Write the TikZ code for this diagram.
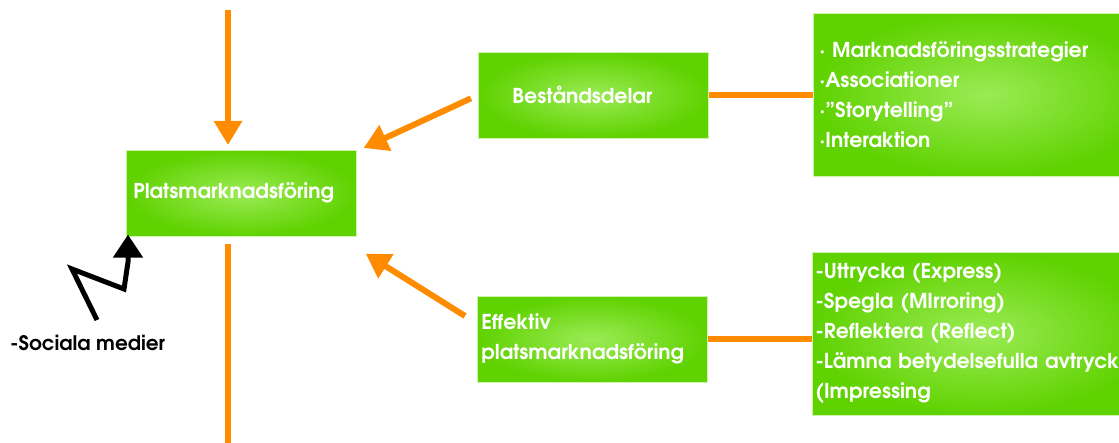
\documentclass[tikz,border=0pt]{standalone}
\usepackage{fontspec}
\setmainfont{texgyreadventor-bold.otf}
\usetikzlibrary{arrows.meta,calc}
\definecolor{ora}{RGB}{255,140,0}
\definecolor{gin}{RGB}{155,235,85}
\definecolor{gout}{RGB}{95,210,0}
\begin{document}
\begin{tikzpicture}[x=1pt,y=-1pt,
  box/.style={rectangle, inner color=gin, outer color=gout, draw=gin!50!white, line width=0.6pt,
    text=white, font=\fontsize{20.5}{30}\selectfont, align=left, anchor=north west, inner ysep=0pt},
  conn/.style={draw=ora, line width=6pt},
  arr/.style={conn, -{Triangle[width=27pt,length=24pt]}},
  zig/.style={draw=black, line width=5pt, line join=miter, -{Triangle[width=29pt,length=23pt]}}]
\useasboundingbox (0,0) rectangle (1119,443);
\fill[white] (0,0) rectangle (1119,443);

\node[box, inner xsep=7pt, text width=216pt, minimum height=86pt] (plats) at (126,150) {Platsmarknadsföring};
\node[box, inner xsep=34pt, text width=162pt, minimum height=86pt] (best) at (478,52) {Beståndsdelar};
\node[box, inner xsep=4pt, text width=222pt, minimum height=86pt] (eff) at (477,296) {Effektiv\\platsmarknadsföring};
\node[box, inner xsep=6pt, text width=330pt, minimum height=163pt] (strat) at (813,13)
  {· Marknadsföringsstrategier\\·Associationer\\·\char34 Storytelling\char34\\·Interaktion};
\node[box, inner xsep=3pt, text width=330pt, minimum height=163pt] (expr) at (812,252)
  {-Uttrycka (Express)\\-Spegla (MIrroring)\\-Reflektera (Reflect)\\-Lämna betydelsefulla avtryck\\(Impressing};

\node[anchor=west, inner sep=0pt, font=\fontsize{20}{22}\selectfont] (soc) at (10,343) {-Sociala medier};

% vertical line through Platsmarknadsföring
\coordinate (top) at (228,10);
\coordinate (bot) at (228,443);
\draw[arr, shorten >=5pt] (top) -- (top |- plats.north);
\draw[conn, shorten <=7pt] (bot |- plats.south) -- (bot);

% arrows into Platsmarknadsföring
\draw[arr] ($(best.west)+(-7,3)$) -- ($(plats.north east)+(7,-2)$);
\draw[arr] ($(eff.north west)+(-12,20)$) -- ($(plats.south east)+(9,17)$);

% lines to the lists
\draw[conn] (best.east) -- (best.east -| strat.west);
\draw[conn] (eff.east) -- (eff.east -| expr.west);

% zigzag from Sociala medier
\coordinate (z1) at (97,320);
\coordinate (z2) at (72,269);
\coordinate (z3) at (124,289);
\coordinate (z4) at (128,262);
\draw[zig] (z1) -- (z2) -- (z3) -- (z4) -- ($(plats.south west)+(2,-2)$);
\end{tikzpicture}
\end{document}
